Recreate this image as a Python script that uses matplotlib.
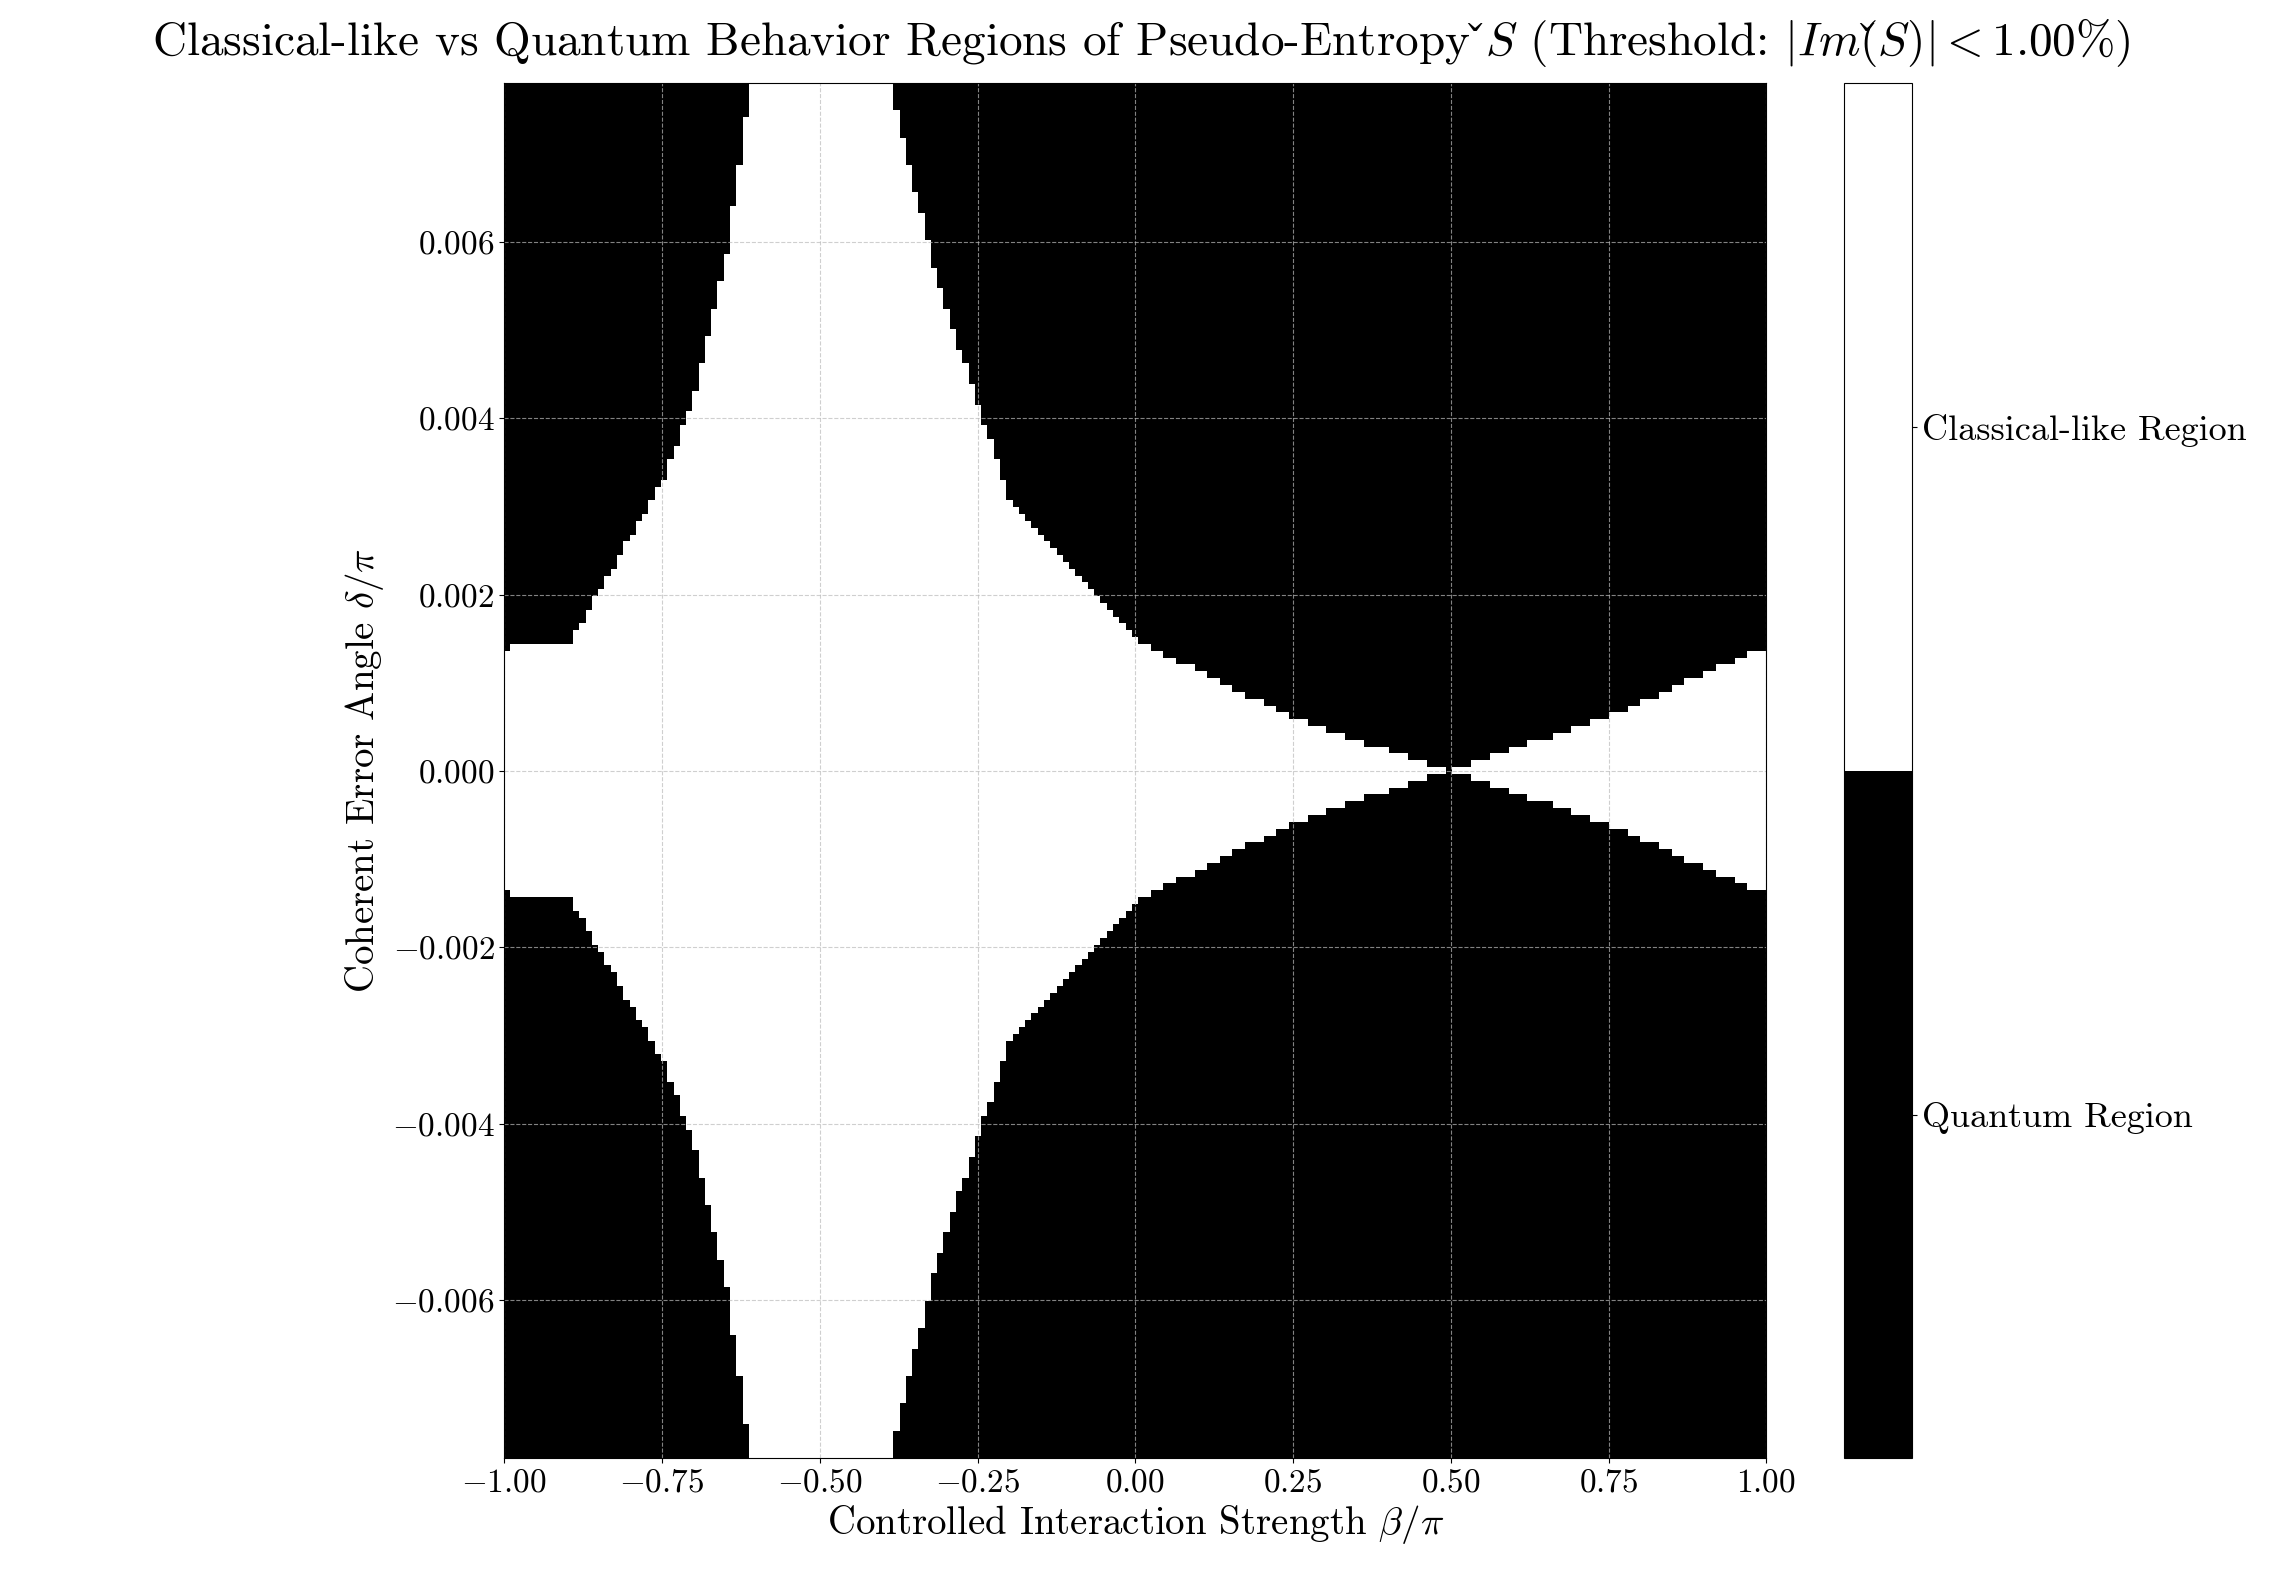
import numpy as np
import matplotlib.pyplot as plt
from matplotlib.colors import ListedColormap

plt.rcParams["font.family"] = "serif"
plt.rcParams["font.serif"] = ["cmr10"]
plt.rcParams["mathtext.fontset"] = "cm"
plt.rcParams["axes.formatter.use_mathtext"] = True

# boundary |delta/pi| of the classical-like region, read at beta/pi positions
beta_pts = [-1.0, -0.9, -0.75, -0.7, -0.65, -0.613, -0.612, -0.39, -0.389,
            -0.316, -0.2, 0.0, 0.25, 0.5, 0.75, 1.0]
delta_pts = [0.0014, 0.00146, 0.00334, 0.0043, 0.0059, 0.0078, 0.05, 0.05, 0.0078,
             0.0056, 0.0031, 0.0015, 0.0006, 0.0, 0.0006, 0.0014]

beta = np.linspace(-1, 1, 201)
delta = np.linspace(-0.0078, 0.0078, 201)
B, D = np.meshgrid(beta, delta)
mask = (np.abs(D) < np.interp(B, beta_pts, delta_pts)).astype(float)

fig = plt.figure(figsize=(22.82, 15.75), dpi=100)
ax = fig.add_axes([0.221, 0.074, 0.553, 0.873])
cax = fig.add_axes([0.808, 0.074, 0.030, 0.873])

cmap = ListedColormap(["black", "white"])
im = ax.imshow(mask, origin="lower", extent=[-1, 1, -0.0078, 0.0078], aspect="auto",
               cmap=cmap, vmin=0, vmax=1, interpolation="nearest")
ax.set_xticks(np.arange(-1, 1.01, 0.25))
ax.set_yticks([-0.006, -0.004, -0.002, 0.0, 0.002, 0.004, 0.006])
ax.set_xticklabels([f"${v:.2f}$".replace("-", "-") for v in np.arange(-1, 1.01, 0.25)])
ax.set_yticklabels([f"${v:.3f}$" for v in [-0.006, -0.004, -0.002, 0.0, 0.002, 0.004, 0.006]])
ax.grid(True, color="#bbbbbb", linestyle="--", linewidth=0.8, alpha=0.7)
ax.tick_params(labelsize=24)
ax.set_xlabel(r"Controlled Interaction Strength $\beta/\pi$", fontsize=28)
ax.set_ylabel(r"Coherent Error Angle $\delta/\pi$", fontsize=28)

cb = fig.colorbar(im, cax=cax, ticks=[0.25, 0.75])
cb.ax.set_yticklabels(["Quantum Region", "Classical-like Region"], fontsize=26)

fig.suptitle(r"Classical-like vs Quantum Behavior Regions of Pseudo-Entropy $\check{S}$ (Threshold: $|Im(\check{S})| < 1.00\%$)",
             fontsize=34, x=0.5, y=0.99)
fig.savefig("out.png", dpi=100)
